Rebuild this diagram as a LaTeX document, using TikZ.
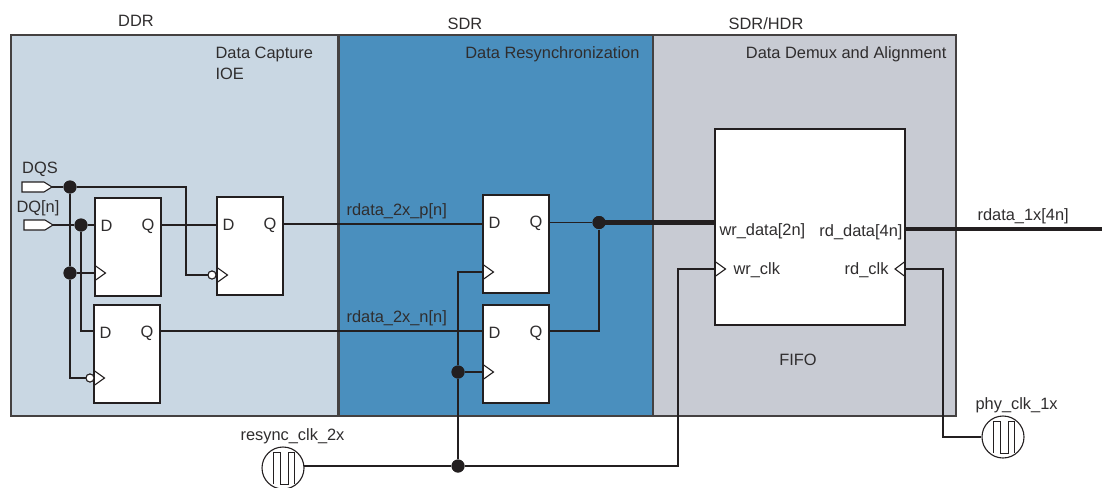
\documentclass[tikz,border=0pt]{standalone}
\usepackage{fontspec}
\setmainfont{Liberation Sans}
\usetikzlibrary{arrows.meta,positioning}
\definecolor{capblue}{HTML}{C9D7E3}
\definecolor{resblue}{HTML}{4A8FBE}
\definecolor{demgray}{HTML}{C8CBD3}
\definecolor{wire}{HTML}{231F20}
\definecolor{txt}{HTML}{2F2D2E}

\begin{document}
\begin{tikzpicture}[x=1pt,y=-1pt,line width=1.1pt,
  panel/.style={draw=wire!85,line width=1.25pt,anchor=north west,inner sep=0pt,outer sep=0pt},
  ff/.style={draw=wire,fill=white,anchor=north west,inner sep=0pt,outer sep=0pt,minimum width=66pt,minimum height=98pt},
  lbl/.style={inner sep=0pt,text=txt,font=\fontsize{16.4}{19}\selectfont},
  pin/.style={draw=wire,fill=white},
  net/.style={draw=wire,line width=1.1pt},
  bus/.style={draw=wire,line width=4.5pt},
  dot/.style={circle,fill=wire,inner sep=0pt,minimum size=13pt},
  bubble/.style={circle,draw=wire,fill=white,inner sep=0pt,minimum size=8pt,line width=1pt},
  osc/.style={circle,draw=wire,inner sep=0pt,minimum size=42pt,line width=1.1pt}]
  \useasboundingbox (0,0) rectangle (1102,487);
  % the three regions
  \node[panel,fill=capblue,minimum width=327pt,minimum height=381pt] (capture) at (11,35) {};
  \node[panel,fill=resblue,minimum width=314pt,minimum height=381pt] (resync) at (339,35) {};
  \node[panel,fill=demgray,minimum width=303pt,minimum height=381pt] (demux) at (653,35) {};
  \node[lbl] (ddr) at (136,21) {DDR};
  \node[lbl] (sdr) at (465,24) {SDR};
  \node[lbl] (hdr) at (766,24) {SDR/HDR};
  \node[lbl,anchor=west] (captxt) at (215,54) {Data Capture};
  \node[lbl,anchor=west] (ioetxt) at (215,74) {IOE};
  \node[lbl,anchor=east] (restxt) at (640,54) {Data Resynchronization};
  \node[lbl,anchor=east] (demtxt) at (947,54) {Data Demux and Alignment};
  % flip-flops and fifo
  \node[ff] (ffa) at (95,198) {};
  \node[ff] (ffb) at (94,305) {};
  \node[ff] (ffc) at (217,197) {};
  \node[ff] (ffd) at (483,195) {};
  \node[ff] (ffe) at (483,305) {};
  \node[ff,minimum width=190pt,minimum height=196pt] (fifo) at (715,129) {};
  % pins and joints
  \coordinate (dqs) at (52,187);
  \coordinate (dq) at (53,225);
  \node[dot] (ja) at (70,187) {};
  \node[dot] (jb) at (81,225) {};
  \node[dot] (jc) at (70,273) {};
  \node[dot] (jd) at (599,222.5) {};
  \node[dot] (je) at (458,372) {};
  \node[dot] (jf) at (458,466) {};
  \node[bubble] (nb) at (90,378) {};
  \node[bubble] (nc) at (212,275) {};
  \node[osc] (rsclk) at (283,468) {};
  \node[osc] (phclk) at (1003,437) {};
  \coordinate (rsout) at (304,466);
  \coordinate (dtop) at (484,224);
  % nets
  \draw[net] (dqs)--(ja)--(186,187)|-(nc);
  \draw[net] (ja)--(jc)|-(nb);
  \draw[net] (jc)--(95,273);
  \draw[net] (dq)--(jb)--(95,225);
  \draw[net] (jb)|-(94,331);
  \draw[net] (161,225)--(217,225);
  \draw[net] (283,224)--(dtop);
  \draw[net] (160,331)--(483,331);
  \draw[net] (549,222.5)--(jd)|-(549,331);
  \draw[net] (rsout)--(jf)--(678,466)|-(715,269);
  \draw[net] (jf)--(je)|-(483,272);
  \draw[net] (je)--(483,372);
  \draw[net] (905,269)-|(943,437)--(phclk.west);
  \draw[bus] (jd.center)--(715,222.5);
  \draw[bus] (905,229)--(1102,229);
  % redraw the boxes' edges over the nets
  \foreach \f in {ffa,ffb,ffc,ffd,ffe,fifo}
    \draw[wire] (\f.north west) rectangle (\f.south east);
  \node[bubble] at (nb) {};
  \node[bubble] at (nc) {};
  \foreach \p in {ja,jb,jc,jd,je,jf}
    \node[dot] at (\p) {};
  % input pins
  \draw[pin] (22,182)--(44,182)--(dqs)--(44,192)--(22,192)--cycle;
  \draw[pin] (24,220)--(45,220)--(dq)--(45,230)--(24,230)--cycle;
  % clock marks
  \foreach \x/\y in {95/273,94/378,217/275,483/272,483/372,715/269}
    \draw[wire] (\x,\y-7.5)--(\x+10.5,\y)--(\x,\y+7.5);
  \draw[wire] (905,261.5)--(895,269)--(905,276.5);
  % oscillators
  \foreach \o in {rsclk,phclk}
    \draw[wire,line width=1pt] (\o)++(-10,16)--++(0,-32)--++(7.5,0)--++(0,32)--++(7.5,0)--++(0,-32)--++(6,0)--++(0,32);
  % labels
  \foreach \f/\a in {ffa/a,ffb/b,ffc/c,ffd/d,ffe/e}{
    \node[lbl,anchor=west] (d\a) at ([xshift=5pt,yshift=-28pt]\f.north west) {D};
    \node[lbl,anchor=east] (q\a) at ([xshift=-6pt,yshift=-28pt]\f.north east) {Q};
  }
  \node[lbl] (dqstxt) at (40,169) {DQS};
  \node[lbl] (dqtxt) at (38,208) {DQ[n]};
  \node[lbl,anchor=west] (ptxt) at (346,211) {rdata\_2x\_p[n]};
  \node[lbl,anchor=west] (ntxt) at (346,318) {rdata\_2x\_n[n]};
  \node[lbl,anchor=west] (wrd) at (719,231) {wr\_data[2n]};
  \node[lbl,anchor=east] (rdd) at (903,232) {rd\_data[4n]};
  \node[lbl,anchor=west] (wrc) at (733,270) {wr\_clk};
  \node[lbl,anchor=east] (rdc) at (889,270) {rd\_clk};
  \node[lbl] (fifotxt) at (798,360) {FIFO};
  \node[lbl,anchor=west] (outtxt) at (977,216) {rdata\_1x[4n]};
  \node[lbl,anchor=west] (phtxt) at (975,405) {phy\_clk\_1x};
  \node[lbl,anchor=west] (rstxt) at (240,436) {resync\_clk\_2x};
\end{tikzpicture}
\end{document}
